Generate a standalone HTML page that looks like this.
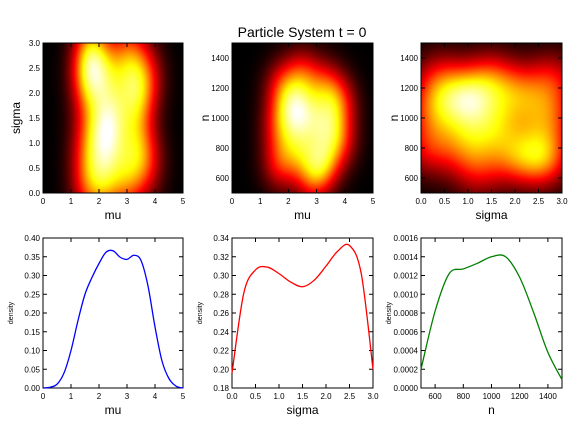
<!DOCTYPE html>
<html><head><meta charset="utf-8"><style>
html,body{margin:0;padding:0;background:#fff;width:576px;height:432px;overflow:hidden}
#wrap{position:relative;width:576px;height:432px}
canvas{position:absolute}
svg{position:absolute;left:0;top:0}
text{font-family:"Liberation Sans",sans-serif}
</style></head><body>
<div id="wrap">
<canvas id="h0" style="left:43px;top:43px" width="140" height="150"></canvas>
<canvas id="h1" style="left:232px;top:43px" width="141" height="150"></canvas>
<canvas id="h2" style="left:421px;top:43px" width="141" height="150"></canvas>
<svg id="svg" width="576" height="432"></svg>
</div>
<script>
// ---- data ----
const muDensX=[0,0.25,0.5,0.75,1,1.25,1.5,1.75,2,2.25,2.5,2.75,3,3.25,3.5,3.75,4,4.25,4.5,4.75,5];
const muDensY=[0,0.002,0.01,0.04,0.1,0.18,0.25,0.295,0.332,0.362,0.366,0.349,0.343,0.354,0.34,0.272,0.163,0.072,0.025,0.005,0];
const sigDensX=[0,0.25,0.5,0.75,1,1.25,1.5,1.75,2,2.25,2.5,2.75,3];
const sigDensY=[0.196,0.281,0.306,0.309,0.302,0.293,0.288,0.295,0.31,0.326,0.332,0.302,0.2];
const nDensX=[500,600,700,800,900,1000,1100,1200,1300,1400,1500];
const nDensY=[0.0002,0.00082,0.00122,0.00127,0.00133,0.0014,0.0014,0.00118,0.0008,0.00038,0.00009];
// heatmap kernel centers [x,y,weight]
const blobsMuSigma=[[1.6,0.2,0.7],[1.6,1.0,0.6],[1.6,2.2,0.7],[1.7,2.9,0.7],[2.3,1.0,1],[2.2,0.2,0.8],[2.5,1.6,0.8],[2.4,2.4,0.6],[3.0,0.3,0.8],[3.3,1.0,0.7],[3.3,1.9,0.9],[3.1,2.7,0.8],[3.7,0.6,0.6],[3.7,2.3,0.6],[1.8,2.5,0.7],[2.0,1.5,0.4]];
const blobsMuN=[[1.7,700,0.6],[1.7,950,0.6],[1.8,1200,0.6],[2.3,1050,1],[2.4,800,0.7],[2.5,1280,0.6],[3.2,700,0.9],[3.3,950,0.7],[3.3,1200,0.6],[3.8,850,0.6],[3.8,1100,0.6],[2.8,600,0.5],[2.8,1000,0.4]];
const blobsSigmaN=[[0.2,800,0.6],[0.3,1050,0.7],[0.4,1250,0.6],[1.0,1120,1.2],[1.0,850,0.7],[1.5,1250,0.7],[1.6,950,0.7],[2.0,750,0.7],[2.1,1150,0.7],[2.6,740,1],[2.7,1000,0.7],[2.8,1250,0.6],[1.2,650,0.5]];
const ticksMu=[0,1,2,3,4,5], ticksSig=[0,0.5,1,1.5,2,2.5,3], ticksN=[600,800,1000,1200,1400];

const NS='http://www.w3.org/2000/svg';
const svg=document.getElementById('svg');
function mk(tag,attrs,name,txt){const e=document.createElementNS(NS,tag);for(const k in attrs)e.setAttribute(k,attrs[k]);


if(txt!==undefined)e.textContent=txt;svg.appendChild(e);return e;}
function lin(d0,d1,r0,r1){return v=>r0+(v-d0)/(d1-d0)*(r1-r0);}
function hot(t){const c=x=>Math.max(0,Math.min(1,x));return [c(t/0.365)*255,c((t-0.365)/0.365)*255,c((t-0.73)/0.27)*255];}
function heat(id,blobs,x0,x1,y0,y1,bx,by,top){
  const cv=document.getElementById(id),ctx=cv.getContext('2d'),W=cv.width,H=cv.height;
  const img=ctx.createImageData(W,H);const vals=[];let mx=0;
  for(let j=0;j<H;j++)for(let i=0;i<W;i++){const x=x0+(i+.5)/W*(x1-x0),y=y1-(j+.5)/H*(y1-y0);let s=0;
    for(const b of blobs){const dx=(x-b[0])/bx,dy=(y-b[1])/by;s+=b[2]*Math.exp(-0.5*(dx*dx+dy*dy));}
    vals.push(s);if(s>mx)mx=s;}
  for(let k=0;k<vals.length;k++){const c=hot(vals[k]/mx*top);img.data[k*4]=c[0];img.data[k*4+1]=c[1];img.data[k*4+2]=c[2];img.data[k*4+3]=255;}
  ctx.putImageData(img,0,0);
}
heat('h0',blobsMuSigma,0,5,0,3,0.45,0.5,1.02);
heat('h1',blobsMuN,0,5,500,1500,0.45,130,1.0);
heat('h2',blobsSigmaN,0,3,500,1500,0.4,140,0.97);

function axes(L,R,T,B,xd,yd,xt,yt,xfmt,yfmt,xl,yl,ylSmall,nm){
  const sx=lin(xd[0],xd[1],L,R),sy=lin(yd[0],yd[1],B,T);
  mk('rect',{x:L,y:T,width:R-L,height:B-T,fill:'none',stroke:'#000','stroke-width':1},nm+'-frame');
  xt.forEach(v=>{const x=sx(v);mk('line',{x1:x,x2:x,y1:B,y2:B-4,stroke:'#000'},nm+'-xtick');mk('line',{x1:x,x2:x,y1:T,y2:T+4,stroke:'#000'},nm+'-xtick-top');
    mk('text',{x:x,y:B+11,'font-size':8,'text-anchor':'middle'},nm+'-xtick-label',xfmt(v));});
  yt.forEach(v=>{const y=sy(v);mk('line',{x1:L,x2:L+4,y1:y,y2:y,stroke:'#000'},nm+'-ytick');mk('line',{x1:R,x2:R-4,y1:y,y2:y,stroke:'#000'},nm+'-ytick-right');
    mk('text',{x:L-3,y:y+3,'font-size':8,'text-anchor':'end'},nm+'-ytick-label',yfmt(v));});
  mk('text',{x:(L+R)/2,y:B+26,'font-size':12,'text-anchor':'middle'},nm+'-x-axis-title',xl);
  const yx=ylSmall?L-30:L-23;
  mk('text',{x:yx,y:(T+B)/2,'font-size':ylSmall?7:12,'text-anchor':'middle',transform:`rotate(-90 ${yx} ${(T+B)/2})`},nm+'-y-axis-title',yl);
  return [sx,sy];
}
function curve(xs,ys,sx,sy,col,nm){
  const P=xs.map((x,i)=>[sx(x),sy(ys[i])]);let d='M'+P[0][0]+','+P[0][1];
  for(let i=0;i<P.length-1;i++){const p0=P[Math.max(0,i-1)],p1=P[i],p2=P[i+1],p3=P[Math.min(P.length-1,i+2)];
    d+=` C${p1[0]+(p2[0]-p0[0])/6},${p1[1]+(p2[1]-p0[1])/6} ${p2[0]-(p3[0]-p1[0])/6},${p2[1]-(p3[1]-p1[1])/6} ${p2[0]},${p2[1]}`;}
  mk('path',{d:d,fill:'none',stroke:col,'stroke-width':1.3},nm);
}
const f1=v=>v.toFixed(1),f0=v=>String(v),f2=v=>v.toFixed(2),f4=v=>v.toFixed(4);
axes(43,183,43,193,[0,5],[0,3],ticksMu,[0,0.5,1,1.5,2,2.5,3],f0,f1,'mu','sigma',false,'heatmap-1');
axes(232,373,43,193,[0,5],[500,1500],ticksMu,ticksN,f0,f0,'mu','n',false,'heatmap-2');
axes(421,562,43,193,[0,3],[500,1500],ticksSig,ticksN,f1,f0,'sigma','n',false,'heatmap-3');
let s;
s=axes(43,183,238,388,[0,5],[0,0.4],ticksMu,[0,0.05,0.1,0.15,0.2,0.25,0.3,0.35,0.4],f0,f2,'mu','density',true,'density-mu');
curve(muDensX,muDensY,s[0],s[1],'#0000ff','density-mu-line');
s=axes(232,373,238,388,[0,3],[0.18,0.34],ticksSig,[0.18,0.2,0.22,0.24,0.26,0.28,0.3,0.32,0.34],f1,f2,'sigma','density',true,'density-sigma');
curve(sigDensX,sigDensY,s[0],s[1],'#ff0000','density-sigma-line');
s=axes(421,562,238,388,[500,1500],[0,0.0016],ticksN,[0,0.0002,0.0004,0.0006,0.0008,0.001,0.0012,0.0014,0.0016],f0,f4,'n','density',true,'density-n');
curve(nDensX,nDensY,s[0],s[1],'#008000','density-n-line');
mk('text',{x:302,y:37,'font-size':14,'text-anchor':'middle'},'chart-title','Particle System t = 0');
</script>
</body></html>
